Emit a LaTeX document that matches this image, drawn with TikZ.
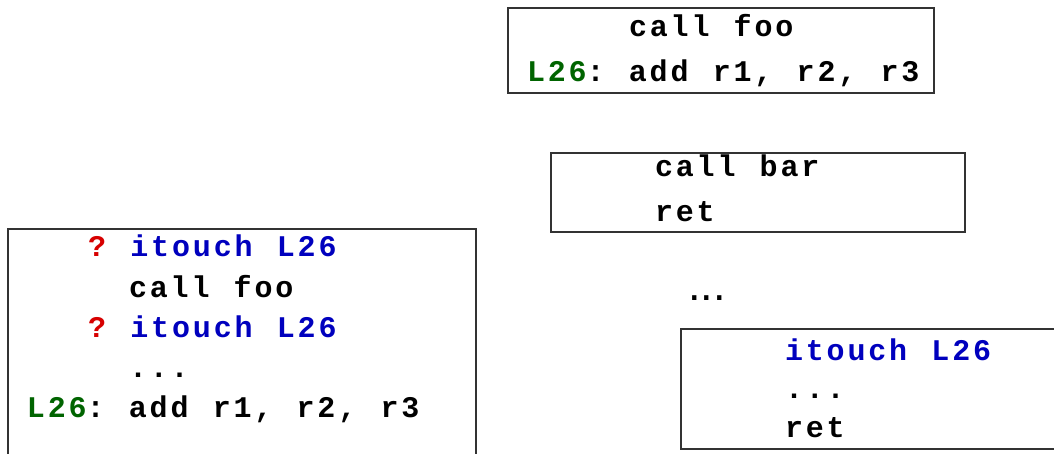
\documentclass[tikz,border=0pt]{standalone}
\usepackage{fontspec}
\newfontfamily\codefont{Liberation Mono}[LetterSpace=9.5,WordSpace={1.16,0,0}]
\newfontfamily\textdots{Liberation Sans}
\definecolor{kwblue}{RGB}{0,0,190}
\definecolor{lblgreen}{RGB}{0,100,0}
\definecolor{qred}{RGB}{215,0,0}
\frenchspacing
\begin{document}
\begin{tikzpicture}[x=1pt,y=-1pt,
  code/.style={anchor=base west, inner sep=0pt, outer sep=0pt,
    font=\codefont\bfseries\fontsize{30}{30}\selectfont},
  frame/.style={draw=black!80, line width=1.3pt, anchor=north west,
    inner sep=0pt, outer sep=0pt}]
\fill[white] (0,0) rectangle (1054,454);
\useasboundingbox (0,0) rectangle (1054,454);
\clip (0,0) rectangle (1054,454);
\def\cw{20.4}

% caller: call foo followed by the label
\node[frame, minimum width=426pt, minimum height=85pt] (callerbox) at (508,8) {};
\node[code] (c1) at (527+5*\cw,37) {call foo};
\node[code] (c2) at (527,82) {\textcolor{lblgreen}{L26}: add r1, r2, r3};

% foo: call bar / ret
\node[frame, minimum width=414pt, minimum height=79pt] (foobox) at (551,153) {};
\node[code] (f1) at (655,177) {call bar};
\node[code] (f2) at (655,222) {ret};

% intermediate frames
\node[anchor=base west, inner sep=0pt, font=\textdots\fontsize{45}{45}\selectfont] (gap) at (688,300) {...};

% deepest callee
\node[frame, minimum width=400pt, minimum height=120pt] (calleebox) at (681,329) {};
\node[code] (e1) at (785,360) {\textcolor{kwblue}{itouch L26}};
\node[code] (e2) at (785,398) {...};
\node[code] (e3) at (785,437) {ret};

% transformed caller with speculative itouch
\node[frame, minimum width=468pt, minimum height=250pt] (leftbox) at (8,229) {};
\node[code] (l1) at (27+3*\cw,257) {\textcolor{qred}{?} \textcolor{kwblue}{itouch L26}};
\node[code] (l2) at (27+5*\cw,297) {call foo};
\node[code] (l3) at (27+3*\cw,337) {\textcolor{qred}{?} \textcolor{kwblue}{itouch L26}};
\node[code] (l4) at (27+5*\cw,377) {...};
\node[code] (l5) at (27,417) {\textcolor{lblgreen}{L26}: add r1, r2, r3};
\end{tikzpicture}
\end{document}
